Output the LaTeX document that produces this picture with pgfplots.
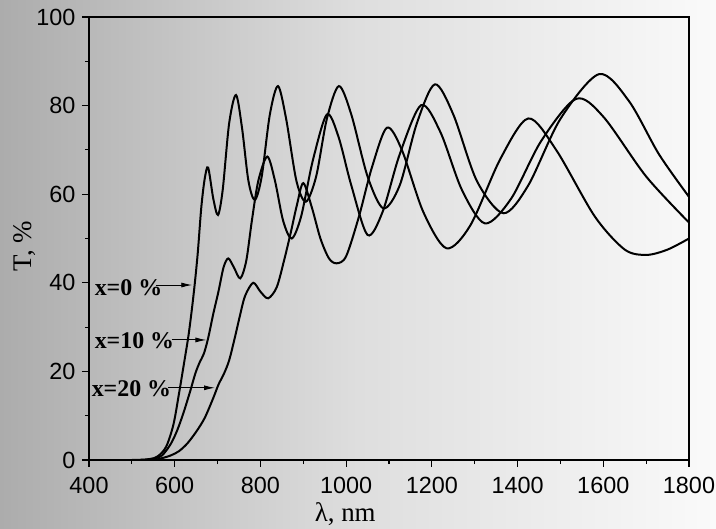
\documentclass[border=0pt]{standalone}
\usepackage{fontspec}
\setmainfont{Liberation Serif}
\newfontfamily\arialf{Liberation Sans}
\usepackage{pgfplots}
\pgfplotsset{compat=1.18}
\usetikzlibrary{arrows.meta}
\definecolor{bgL}{RGB}{172,172,172}
\definecolor{bgM}{RGB}{222,222,222}
\definecolor{bgR}{RGB}{250,250,250}

\pgfplotstableread{
x y
400 0
500 0
540 0.2
560 0.8
580 3
597 8
610 15
622 22
632 28
640 34
647 40
654 47
662 57
670 63.5
678 66
690 59
701 55.3
712 61
727 76
743 82.4
757 75
772 63
787 58.7
803 64
822 78
841 84.4
860 77
884 63
906 58.3
930 64
955 77
983 84.4
1012 78
1050 64
1087 56.8
1125 62
1165 76
1207 84.8
1250 78
1305 63
1367 55.7
1425 62
1500 77
1590 87.1
1660 81
1730 69
1800 59.4
}\curveA

\pgfplotstableread{
x y
400 0
520 0
550 0.3
570 1
590 3.5
605 6.5
620 10.5
636 15.5
648 19.5
658 22
668 24
678 27.5
690 33
702 38
714 43.5
725 45.5
738 43.5
753 41
767 45
780 54
795 63
816 68.5
834 63
853 54
873 50
895 55
922 67.5
955 78
982 73
1012 62
1050 50.8
1085 56
1125 69
1175 80.1
1220 74
1270 61
1324 53.4
1385 59
1455 72
1536 81.5
1600 77.5
1700 64
1800 53.6
}\curveB

\pgfplotstableread{
x y
400 0
540 0
565 0.3
590 1
610 2
630 3.8
651 6.5
670 9.5
690 14
702 17
715 19.5
727 22.5
740 27.5
752 32.5
764 37
783 40
800 38
818 36.5
838 39
855 45
870 51
885 57.5
900 62.5
920 57
940 50
960 45.5
978 44.4
1000 46
1030 55
1060 66
1095 75
1130 70
1180 56
1234 47.8
1290 53
1360 68
1425 77.1
1490 70
1580 55
1650 47.5
1701 46.3
1750 47.5
1800 50
}\curveC

\begin{document}
\begin{tikzpicture}
\useasboundingbox (-89bp,-69bp) rectangle (627bp,460bp);
\shade[left color=bgL, right color=bgR, middle color=bgM] (-89bp,-69bp) rectangle (627bp,460bp);
\begin{axis}[
  at={(0,0)}, anchor=south west,
  width=600bp, height=443bp, scale only axis,
  xmin=400, xmax=1800, ymin=0, ymax=100,
  xtick={400,600,...,1800}, ytick={0,20,...,100},
  minor x tick num=1, minor y tick num=1,
  tick align=outside, xtick pos=bottom, ytick pos=left,
  major tick length=7bp, minor tick length=4bp,
  axis line style={line width=1.3bp, black},
  major tick style={line width=1.1bp, black},
  minor tick style={line width=1.1bp, black},
  tick label style={font=\arialf\fontsize{23.5}{28}\selectfont},
  xticklabel style={yshift=-7bp},
  yticklabel style={xshift=-3bp},
  /pgf/number format/assume math mode=true,
  /pgf/number format/1000 sep={},
  scaled ticks=false,
  xlabel={λ, nm}, ylabel={T, \%},
  label style={font=\fontsize{27}{32}\selectfont},
  xlabel style={at={(axis description cs:0.427,-0.123)}, anchor=center},
  ylabel style={at={(axis description cs:-0.107,0.483)}, anchor=center},
]
\addplot[black, line width=2bp, smooth, no markers] table {\curveA};
\addplot[black, line width=2bp, smooth, no markers] table {\curveB};
\addplot[black, line width=2bp, smooth, no markers] table {\curveC};

\node[anchor=west, font=\bfseries\fontsize{24}{28}\selectfont, inner sep=0pt] at (axis cs:413,39) {x=0 \%};
\node[anchor=west, font=\bfseries\fontsize{24}{28}\selectfont, inner sep=0pt] at (axis cs:413,26.9) {x=10 \%};
\node[anchor=west, font=\bfseries\fontsize{24}{28}\selectfont, inner sep=0pt] at (axis cs:406,16) {x=20 \%};
\draw[-{Latex[length=11bp,width=5bp]}, line width=0.9bp] (axis cs:556,39.5) -- (axis cs:641,39.5);
\draw[-{Latex[length=11bp,width=5bp]}, line width=0.9bp] (axis cs:593,27.1) -- (axis cs:674,27.1);
\draw[-{Latex[length=11bp,width=5bp]}, line width=0.9bp] (axis cs:585,16.3) -- (axis cs:694,16.3);
\end{axis}
\end{tikzpicture}
\end{document}
